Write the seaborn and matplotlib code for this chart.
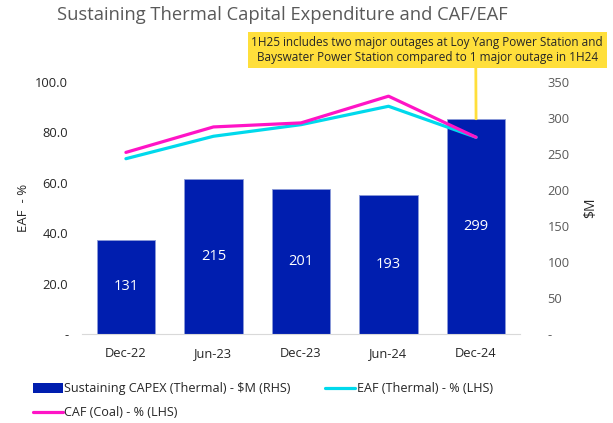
import pandas as pd
import matplotlib.pyplot as plt
import seaborn as sns
from matplotlib.patches import Patch
from matplotlib.lines import Line2D

# values
periods = ['Dec-22', 'Jun-23', 'Dec-23', 'Jun-24', 'Dec-24']
capex = [131, 215, 201, 193, 299]          # $M, right axis
eaf = [69.6, 78.5, 83.1, 90.4, 78.1]       # %, left axis
caf = [72.1, 82.2, 83.8, 94.4, 78.1]       # %, left axis
left_ticks = [0, 20, 40, 60, 80, 100]
right_ticks = [0, 50, 100, 150, 200, 250, 300, 350]

bar_color = '#001EAF'
eaf_color = '#00D9EC'
caf_color = '#FF14C6'
note_color = '#FFDF3B'

sns.set_style('white')
plt.rcParams['font.family'] = ['Open Sans', 'DejaVu Sans']

df = pd.DataFrame({'period': periods, 'capex': capex, 'eaf': eaf, 'caf': caf})

fig = plt.figure(figsize=(6.13, 4.23), dpi=100)
ax = fig.add_axes([0.134, 0.21, 0.714, 0.596])
ax2 = ax.twinx()

# bars on the right axis
sns.barplot(data=df, x='period', y='capex', color=bar_color, width=0.67,
            edgecolor='#8C9AD8', linewidth=0.6, saturation=1, ax=ax2)
ax2.bar_label(ax2.containers[0], label_type='center', color='white', fontsize=10.5)

# lines on the left axis, drawn above the bars
sns.lineplot(data=df, x='period', y='eaf', color=eaf_color, linewidth=2.3, ax=ax)
sns.lineplot(data=df, x='period', y='caf', color=caf_color, linewidth=2.3, ax=ax)
ax.set_zorder(ax2.get_zorder() + 1)
ax.patch.set_visible(False)

ax.set_xlim(-0.5, len(periods) - 0.5)
ax.set_ylim(0, 100)
ax2.set_ylim(0, 350)

ax.set_yticks(left_ticks)
ax.set_yticklabels(['-'] + [f'{t:.1f}' for t in left_ticks[1:]])
ax2.set_yticks(right_ticks)
ax2.set_yticklabels(['-'] + [str(t) for t in right_ticks[1:]])

ax.tick_params(axis='y', length=0, pad=10, labelsize=9.3, labelcolor='#262626')
ax.tick_params(axis='x', length=0, pad=9, labelsize=9.3, labelcolor='#262626')
ax2.tick_params(axis='y', length=0, pad=20, labelsize=9.3, labelcolor='#595959')
ax2.tick_params(axis='x', length=0)

ax.set_xlabel('')
ax.set_ylabel('EAF  - %', fontsize=9.5, color='#262626', labelpad=4)
ax2.set_xlabel('')
ax2.set_ylabel('$M', fontsize=10, color='#262626', labelpad=10)

for a in (ax, ax2):
    for s in a.spines.values():
        s.set_visible(False)
ax2.spines['bottom'].set_visible(True)
ax2.spines['bottom'].set_color('#D9D9D9')

fig.text(0.46, 0.965, 'Sustaining Thermal Capital Expenditure and CAF/EAF',
         ha='center', va='center', fontsize=13.2, color='#595959')

# note box with a connector down to the Dec-24 bar
note = ('1H25 includes two major outages at Loy Yang Power Station and\n'
        'Bayswater Power Station compared to 1 major outage in 1H24')
ax2.annotate(note, xy=(len(periods) - 1, capex[-1]), xycoords='data',
             xytext=(0.697, 0.882), textcoords='figure fraction',
             ha='center', va='center', fontsize=8.5, color='#262626',
             linespacing=1.25,
             bbox=dict(boxstyle='square,pad=0.3', fc=note_color, ec='none'),
             arrowprops=dict(arrowstyle='-', color=note_color, lw=2,
                             relpos=(0.638, 0.0), shrinkA=0, shrinkB=0))

handles = [Patch(facecolor=bar_color, edgecolor='none'),
           Line2D([], [], color=caf_color, linewidth=2.3),
           Line2D([], [], color=eaf_color, linewidth=2.3)]
labels = ['Sustaining CAPEX (Thermal) - $M (RHS)',
          'CAF (Coal) - % (LHS)',
          'EAF (Thermal) - % (LHS)']
fig.legend(handles, labels, loc='lower left', bbox_to_anchor=(0.035, -0.018),
           ncol=2, frameon=False, fontsize=9.1, handlelength=2.4,
           handleheight=0.8, handletextpad=0.1, columnspacing=2.7,
           labelspacing=0.85, labelcolor='#262626')

fig.savefig('out.png', dpi=100)
